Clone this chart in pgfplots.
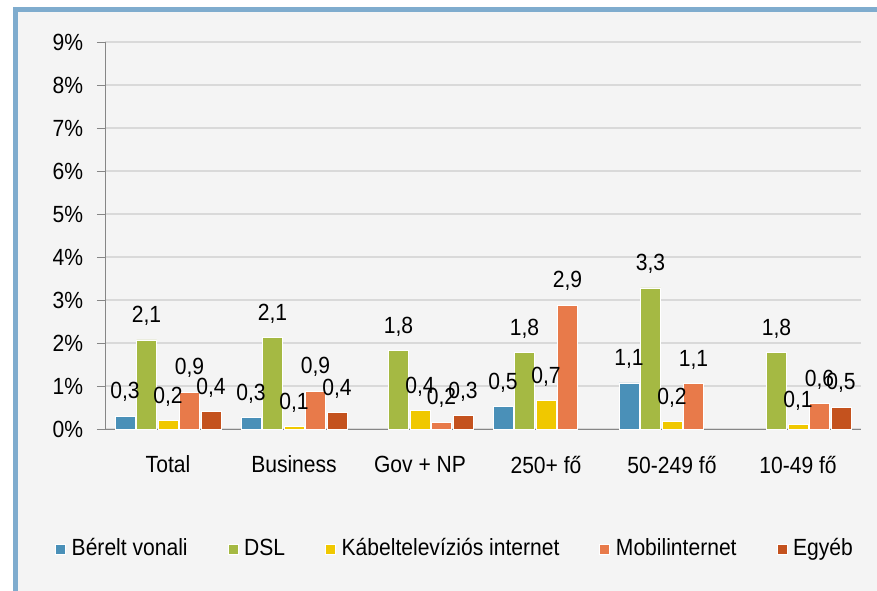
\documentclass[border=0pt]{standalone}
\usepackage{pgfplots}
\pgfplotsset{compat=1.18}
\usepackage{fontspec}
\setmainfont{Liberation Sans}[FakeStretch=0.9]

\definecolor{cBerelt}{RGB}{74,144,184}
\definecolor{cDSL}{RGB}{165,185,67}
\definecolor{cKabel}{RGB}{240,200,0}
\definecolor{cMobil}{RGB}{232,122,74}
\definecolor{cEgyeb}{RGB}{196,82,30}
\definecolor{gridc}{RGB}{217,217,217}
\definecolor{axisc}{RGB}{134,134,134}
\definecolor{bgc}{RGB}{244,244,244}
\definecolor{framec}{RGB}{127,172,206}

\begin{document}
\fontsize{23.5}{27}\selectfont
\begin{tikzpicture}
% frame and background
\fill[white] (0bp,0bp) rectangle (877bp,-591bp);
\fill[framec] (13bp,-7bp) rectangle (877bp,-591bp);
\fill[bgc] (18bp,-12bp) rectangle (877bp,-591bp);
\begin{axis}[
  at={(105bp,-429bp)}, anchor=south west,
  scale only axis, width=756bp, height=387bp,
  ybar=1.5bp, bar width=20bp,
  xmin=-0.5, xmax=5.5, ymin=0, ymax=9,
  enlargelimits=false, clip=false,
  axis lines*=left, axis line style={axisc, line width=1bp, -},
  ytick={0,...,9},
  yticklabel={\pgfmathprintnumber{\tick}\%},
  /pgf/number format/assume math mode=true,
  ymajorgrids, grid style={gridc, line width=1.5bp},
  tick align=outside,
  major tick length=8bp, minor tick length=8bp,
  ytick style={axisc, line width=1bp},
  xtick={0,...,5},
  xticklabels={Total, Business, Gov + NP, 250+ fő, 50-249 fő, 10-49 fő},
  xtick style={draw=none},
  minor xtick={-0.5,0.5,...,5.5},
  minor x tick style={axisc, line width=1bp},
  xticklabel style={yshift=-11bp},
  yticklabel style={xshift=-6bp},
  every axis plot/.append style={draw=white, line width=0.8bp},
  nodes near coords={\pgfmathprintnumber[fixed,fixed zerofill,precision=1,use comma]{\pgfplotspointmeta}},
  nodes near coords style={black, yshift=6bp},
  legend columns=5,
  legend style={at={(0.463,-0.31)}, anchor=center, draw=none, fill=none,
    column sep=4bp, /tikz/every even column/.append style={column sep=38bp}},
  legend image code/.code={\draw[#1, draw=white, line width=0.5bp] (0bp,-5bp) rectangle (10bp,5bp);},
]
\addplot[fill=cBerelt] coordinates {(0,0.30) (1,0.26) (3,0.52) (4,1.07)};
\addlegendentry{Bérelt vonali}
\addplot[fill=cDSL] coordinates {(0,2.07) (1,2.13) (2,1.82) (3,1.77) (4,3.28) (5,1.77)};
\addlegendentry{DSL}
\addplot[fill=cKabel] coordinates {(0,0.19) (1,0.06) (2,0.43) (3,0.66) (4,0.17) (5,0.10)};
\addlegendentry{Kábeltelevíziós internet}
\addplot[fill=cMobil] coordinates {(0,0.86) (1,0.88) (2,0.16) (3,2.88) (4,1.06) (5,0.60)};
\addlegendentry{Mobilinternet}
\addplot[fill=cEgyeb] coordinates {(0,0.40) (1,0.38) (2,0.31) (5,0.51)};
\addlegendentry{Egyéb}
\end{axis}
\end{tikzpicture}
\end{document}
